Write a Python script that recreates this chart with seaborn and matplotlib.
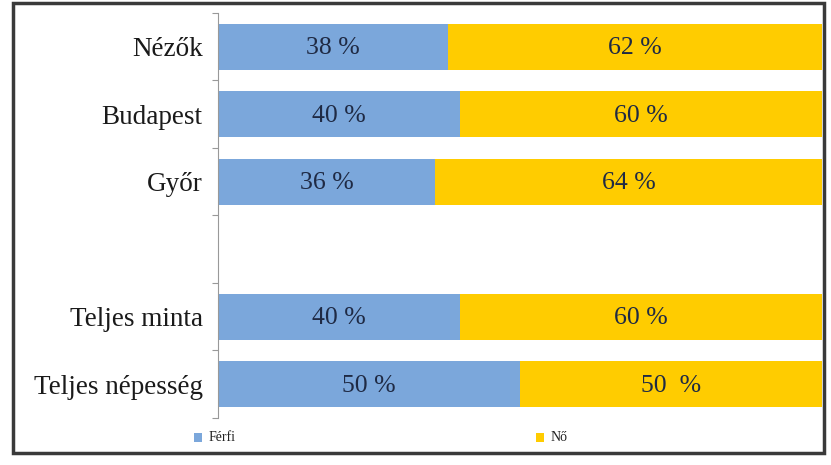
import matplotlib
matplotlib.use("Agg")
import matplotlib.pyplot as plt
from matplotlib.patches import Rectangle
from matplotlib.ticker import FixedLocator
import pandas as pd
import seaborn as sns

categories = ["Nézők", "Budapest", "Győr", "Teljes minta", "Teljes népesség"]
ferfi = [38, 40, 36, 40, 50]
no = [62, 60, 64, 60, 50]
no_label_sep = [" ", " ", " ", " ", "  "]
order = ["Nézők", "Budapest", "Győr", " ", "Teljes minta", "Teljes népesség"]

BLUE = "#7BA7DB"
YELLOW = "#FFCC00"
TEXT = "#1F2A44"

sns.set_theme(style="white")
plt.rcParams["font.family"] = ["Liberation Serif", "DejaVu Serif"]

df = pd.DataFrame({"kat": categories, "Férfi": ferfi, "Nő": no})
df["total"] = df["Férfi"] + df["Nő"]

fig = plt.figure(figsize=(8.31, 4.65), dpi=100)
ax = fig.add_axes([218 / 831, 1 - 418 / 465, 604 / 831, 405 / 465])

sns.barplot(data=df, x="total", y="kat", order=order, color=YELLOW,
            width=0.68, saturation=1, ax=ax, label="Nő")
sns.barplot(data=df, x="Férfi", y="kat", order=order, color=BLUE,
            width=0.68, saturation=1, ax=ax, label="Férfi")

for bar in ax.patches:
    bar.set_edgecolor("none")

pos = {c: i for i, c in enumerate(order)}
for c, f, n, sep in zip(categories, ferfi, no, no_label_sep):
    y = pos[c] + 0.02
    ax.text(f / 2, y, f"{f} %", ha="center", va="center", fontsize=18.5, color=TEXT)
    ax.text(f + n / 2, y, f"{n}{sep}%", ha="center", va="center", fontsize=18.5, color=TEXT)

ax.set_xlim(0, 100)
ax.set_ylim(len(order) - 0.5, -0.5)
ax.set_xlabel("")
ax.set_ylabel("")
ax.set_xticks([])
ax.tick_params(axis="y", which="major", length=0, labelsize=19.5, pad=11, labelcolor="#1a1a1a")
ax.yaxis.set_minor_locator(FixedLocator([i - 0.5 for i in range(len(order) + 1)]))
ax.tick_params(axis="y", which="minor", length=4, width=0.8, color="#999999", left=True)
for side in ["top", "right", "bottom"]:
    ax.spines[side].set_visible(False)
ax.spines["left"].set_color("#999999")
ax.spines["left"].set_linewidth(0.8)

if ax.get_legend() is not None:
    ax.get_legend().remove()

# legend entries placed along the bottom strip
for x0, lab, col in [(194, "Férfi", BLUE), (536, "Nő", YELLOW)]:
    fig.patches.append(Rectangle((x0 / 831, 1 - 442 / 465), 8 / 831, 9 / 465,
                                 transform=fig.transFigure, facecolor=col,
                                 edgecolor="none"))
    fig.text((x0 + 15) / 831, 1 - 437 / 465, lab, fontsize=10, va="center",
             ha="left", color="#222222")

# outer frame
fig.patches.append(Rectangle((13 / 831, 1 - 453 / 465), 811 / 831, 450 / 465,
                             transform=fig.transFigure, facecolor="none",
                             edgecolor="#3a3a3a", linewidth=2.5))

fig.savefig("out.png", dpi=100)
